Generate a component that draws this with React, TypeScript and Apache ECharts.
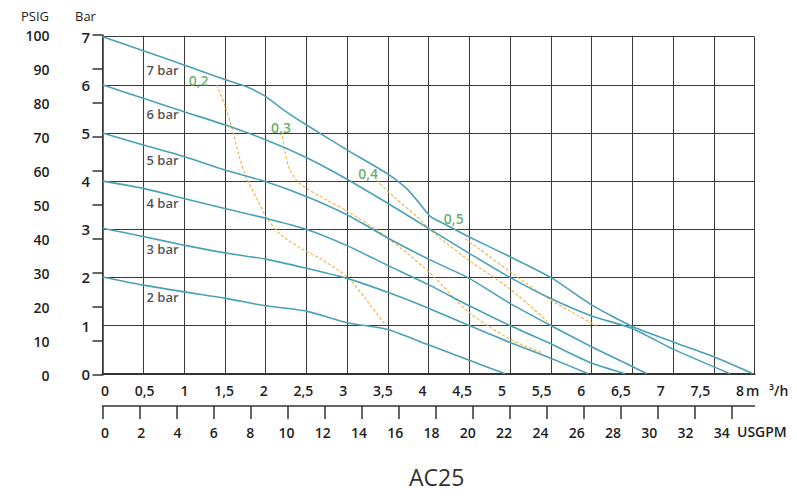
import React, { useEffect, useRef } from "react";
import * as echarts from "echarts";

// ---- data ----
// flow in m3/h, pressure in bar
const bar7 = [[0, 7], [0.5, 6.71], [1, 6.41], [1.5, 6.11], [1.77, 5.96], [2, 5.76], [2.22, 5.48], [2.5, 5.17], [3, 4.65], [3.5, 4.15], [3.73, 3.85], [3.86, 3.6], [4.02, 3.27], [4.22, 3.09], [4.5, 2.84], [5, 2.43], [5.5, 2.0], [6, 1.43], [6.5, 0.98], [7, 0.66], [7.5, 0.35], [7.98, 0]];
const bar6 = [[0, 6], [0.5, 5.72], [1, 5.44], [1.5, 5.17], [2, 4.86], [2.5, 4.49], [3, 4.04], [3.5, 3.54], [4, 3.02], [4.5, 2.5], [5, 2.0], [5.5, 1.56], [6, 1.2], [6.5, 0.94], [7, 0.51], [7.7, 0]];
const bar5 = [[0, 5], [0.5, 4.75], [1, 4.51], [1.5, 4.23], [2, 3.99], [2.5, 3.68], [3, 3.3], [3.5, 2.82], [4, 2.38], [4.5, 1.98], [5, 1.46], [5.5, 1.0], [6, 0.56], [6.5, 0.15], [6.68, 0]];
const bar4 = [[0, 4], [0.5, 3.85], [1, 3.64], [1.5, 3.43], [2, 3.23], [2.5, 3.0], [3, 2.66], [3.5, 2.25], [4, 1.85], [4.5, 1.41], [5, 1.0], [5.5, 0.62], [6, 0.22], [6.41, 0]];
const bar3 = [[0, 3.02], [0.5, 2.85], [1, 2.67], [1.5, 2.51], [2, 2.38], [2.5, 2.19], [3, 1.98], [3.5, 1.69], [4, 1.36], [4.5, 1.0], [5, 0.65], [5.5, 0.32], [5.96, 0]];
const bar2 = [[0, 2.01], [0.5, 1.84], [1, 1.7], [1.5, 1.57], [2, 1.41], [2.5, 1.3], [3, 1.06], [3.5, 0.92], [4, 0.6], [4.5, 0.28], [4.94, 0]];

// air consumption iso-lines
const air02 = [[1.4, 6.0], [1.5, 5.58], [1.6, 5.03], [1.68, 4.5], [1.77, 4.05], [1.9, 3.62], [2.01, 3.25], [2.18, 2.9], [2.4, 2.64], [2.7, 2.36], [3.0, 2.01], [3.24, 1.53], [3.47, 1.01]];
const air03 = [[2.2, 5.03], [2.24, 4.6], [2.3, 4.23], [2.42, 3.95], [2.75, 3.61], [3.0, 3.38], [3.5, 2.82], [4.0, 2.12], [4.5, 1.27], [5.0, 0.72], [5.4, 0.43]];
const air04 = [[3.36, 4.02], [3.57, 3.68], [3.86, 3.26], [4.0, 3.02], [4.22, 2.71], [4.5, 2.35], [5.0, 1.76], [5.45, 1.1]];
const air05 = [[4.45, 2.8], [4.6, 2.62], [5.0, 2.12], [5.5, 1.53], [6.06, 1.0]];

const pressureNames = ["7 bar", "6 bar", "5 bar", "4 bar", "3 bar", "2 bar"];
const airNames = ["0,2", "0,3", "0,4", "0,5"];
const gpmTicks = [0, 2, 4, 6, 8, 10, 12, 14, 16, 18, 20, 22, 24, 26, 28, 30, 32, 34];

// label anchor positions (layout, in data coordinates)
const pressureLabelPos = [[0.54, 6.31], [0.54, 5.39], [0.54, 4.44], [0.54, 3.54], [0.54, 2.6], [0.54, 1.6]];
const airLabelPos = [[1.18, 6.1], [2.19, 5.12], [3.26, 4.15], [4.31, 3.23]];

const M3H_PER_GPM = 0.2271247;
const FONT = "'Open Sans', 'Noto Sans', sans-serif";
const TEXT = "#1f1f1f";
const GRID = "#3a3a3a";
const BLUE = "#4aa1b8";
const ORANGE = "#f2b13a";
const GREEN = "#3f9a48";

const comma = (v: number) => String(v).replace(".", ",");

export default function App() {
  const ref = useRef<HTMLDivElement>(null);
  useEffect(() => {
    document.body.style.margin = "0";
    if (!ref.current) return;
    const chart = echarts.init(ref.current, undefined, { renderer: "svg" });
    const flowMax = 8;
    const gpmMax = flowMax / M3H_PER_GPM;
    const labelFont = { fontFamily: FONT, fontSize: 14, fontWeight: 600, color: TEXT };

    const curves = [bar7, bar6, bar5, bar4, bar3, bar2];
    const airs = [air02, air03, air04, air05];

    const option: any = {
      animation: false,
      backgroundColor: "#ffffff",
      grid: [
        { left: 102.5, right: 42.5, top: 36.7, bottom: 122.3 },
        { left: 105, right: 57, top: 36.7, bottom: 122.3 },
        { left: 102.5, right: 42.5, top: 36.7, bottom: 90 },
        { left: 105, right: 53, top: 36.7, bottom: 90 },
        { left: 102.5, right: 42.5, top: 35, bottom: 121 },
      ],
      xAxis: [
        {
          gridIndex: 0, type: "value", min: 0, max: flowMax, interval: 0.5,
          axisLine: { show: true, lineStyle: { color: "#333", width: 2 } },
          axisTick: { show: false }, axisLabel: { show: false },
          splitLine: { show: true, lineStyle: { color: GRID, width: 1 } },
        },
        {
          gridIndex: 1, type: "value", min: 0, max: flowMax, interval: 0.5,
          axisLine: { show: false }, axisTick: { show: false }, splitLine: { show: false },
          axisLabel: { show: true, margin: 10, formatter: (v: number) => comma(v), ...labelFont },
        },
        {
          gridIndex: 2, type: "value", min: 0, max: gpmMax,
          axisLine: { show: true, lineStyle: { color: "#333", width: 1.5 } },
          axisTick: { show: true, length: 13, customValues: gpmTicks, lineStyle: { color: "#333", width: 1.5 } },
          axisLabel: { show: false }, splitLine: { show: false },
        },
        {
          gridIndex: 3, type: "value", min: 0, max: gpmMax,
          axisLine: { show: false }, axisTick: { show: false }, splitLine: { show: false },
          axisLabel: { show: true, margin: 19, customValues: gpmTicks, ...labelFont },
        },
        { gridIndex: 4, type: "value", min: 0, max: 1, show: false },
      ],
      yAxis: [
        {
          gridIndex: 0, type: "value", min: 0, max: 7, interval: 1,
          axisLine: { show: false }, axisTick: { show: false },
          splitLine: { show: true, lineStyle: { color: GRID, width: 1 } },
          axisLabel: { show: true, margin: 12.5, ...labelFont, fontSize: 15 },
        },
        { gridIndex: 1, type: "value", min: 0, max: 7, show: false },
        { gridIndex: 2, type: "value", min: 0, max: 7, show: false },
        { gridIndex: 3, type: "value", min: 0, max: 7, show: false },
        {
          gridIndex: 4, type: "value", min: 0, max: 100, interval: 10, offset: 35.5,
          axisLine: { show: true, lineStyle: { color: "#333", width: 1.5 } },
          axisTick: { show: true, length: 10, lineStyle: { color: "#333", width: 1.5 } },
          splitLine: { show: false },
          axisLabel: { show: true, margin: 17.5, ...labelFont },
        },
      ],
      series: [
        ...curves.map((d, i) => ({
          name: pressureNames[i], type: "line", xAxisIndex: 0, yAxisIndex: 0,
          data: d, showSymbol: false, smooth: 0.2,
          lineStyle: { color: BLUE, width: 1.6 }, z: 3,
        })),
        ...airs.map((d, i) => ({
          name: airNames[i], type: "line", xAxisIndex: 0, yAxisIndex: 0,
          data: d, showSymbol: false, smooth: 0.3,
          lineStyle: { color: ORANGE, width: 1.1, type: [3, 2] }, z: 2,
        })),
        {
          type: "scatter", xAxisIndex: 0, yAxisIndex: 0, symbolSize: 0, silent: true,
          data: pressureNames.map((n, i) => ({ name: n, value: pressureLabelPos[i] })),
          label: {
            show: true, formatter: "{b}", position: "right", distance: 0,
            fontFamily: FONT, fontSize: 13, fontWeight: 600, color: TEXT,
          },
          z: 5,
        },
        {
          type: "scatter", xAxisIndex: 0, yAxisIndex: 0, symbolSize: 0, silent: true,
          data: airNames.map((n, i) => ({ name: n, value: airLabelPos[i] })),
          label: {
            show: true, formatter: "{b}", position: "inside",
            fontFamily: FONT, fontSize: 14, fontWeight: 600, color: GREEN,
          },
          z: 5,
        },
      ],
      graphic: [
        { type: "text", left: 21, top: 9, style: { text: "PSIG", font: `500 13px ${FONT}`, fill: TEXT } },
        { type: "text", left: 75, top: 9, style: { text: "Bar", font: `500 13px ${FONT}`, fill: TEXT } },
        { type: "text", left: 746, top: 383, style: { text: "m", font: `600 14px ${FONT}`, fill: TEXT } },
        { type: "text", left: 769, top: 383, style: { text: "³/h", font: `600 14px ${FONT}`, fill: TEXT } },
        { type: "text", left: 737, top: 424, style: { text: "USGPM", font: `600 14px ${FONT}`, fill: TEXT } },
        { type: "text", left: 409, top: 465, style: { text: "AC25", font: `500 23px ${FONT}`, fill: "#333" } },
      ],
    };
    chart.setOption(option);
    return () => chart.dispose();
  }, []);
  return <div ref={ref} style={{ position: "fixed", left: 0, top: 0, width: 797, height: 496 }} />;
}
